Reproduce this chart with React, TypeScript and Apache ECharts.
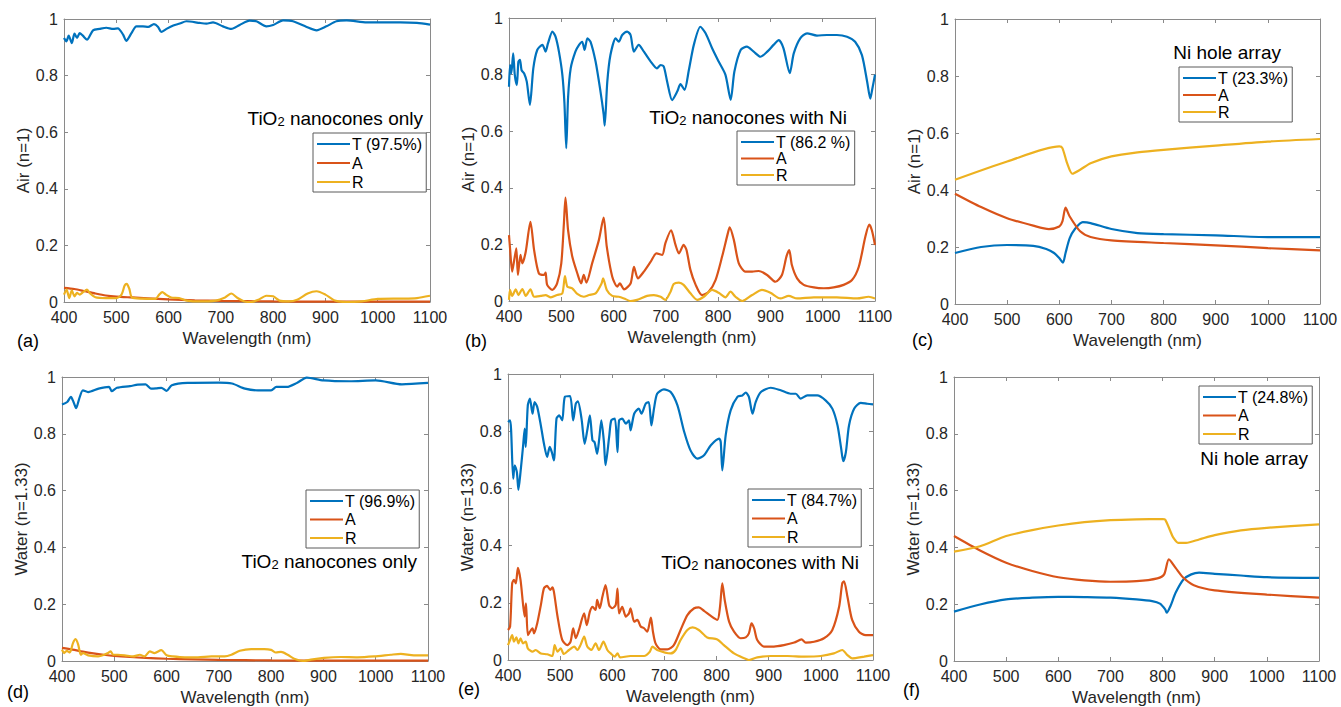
import React, { useEffect, useRef } from "react";
import * as echarts from "echarts";

const FONT = "'Liberation Sans', Arial, Helvetica, sans-serif";
const C_T = "#0072BD";
const C_A = "#D95319";
const C_R = "#EDB120";

const X_TICKS_MIN = 400;
const X_TICKS_MAX = 1100;

// ---------- (a) Air, TiO2 nanocones only ----------
const aT_wl = [400, 404.5, 409, 415, 420, 425, 430, 436, 444, 455.5, 468, 481, 494, 503, 513, 519, 529, 538.5, 551, 561, 572, 580, 586, 596, 609, 621.5, 634, 660, 672.5, 685, 704, 720, 736, 755, 768, 787, 800, 819, 838, 864, 883, 902, 921, 940.5, 979, 1043, 1075, 1100];
const aT_v = [0.933, 0.921, 0.941, 0.915, 0.948, 0.933, 0.95, 0.941, 0.927, 0.96, 0.965, 0.969, 0.965, 0.967, 0.945, 0.923, 0.95, 0.974, 0.974, 0.972, 0.982, 0.972, 0.954, 0.965, 0.977, 0.984, 0.992, 0.986, 0.984, 0.988, 0.974, 0.965, 0.979, 0.994, 0.992, 0.974, 0.979, 0.995, 0.992, 0.972, 0.96, 0.974, 0.992, 0.995, 0.988, 0.988, 0.986, 0.98];
const aA_wl = [400, 420, 440, 460, 480, 500, 530, 560, 600, 650, 700, 800, 900, 1000, 1100];
const aA_v = [0.05, 0.046, 0.038, 0.03, 0.023, 0.019, 0.016, 0.013, 0.009, 0.006, 0.004, 0.002, 0.001, 0.001, 0.001];
const aR_wl = [400, 405, 410, 415, 420, 425, 430, 436, 444, 450, 460, 480, 500, 510, 516, 520, 525, 530, 550, 575, 582, 588, 595, 605, 620, 635, 660, 690, 708, 720, 732, 745, 758, 772, 787, 800, 812, 830, 846, 866, 883, 900, 918, 940, 970, 1000, 1050, 1075, 1100];
const aR_v = [0.026, 0.044, 0.014, 0.041, 0.02, 0.032, 0.026, 0.034, 0.044, 0.03, 0.017, 0.014, 0.014, 0.026, 0.058, 0.064, 0.046, 0.016, 0.012, 0.011, 0.026, 0.035, 0.026, 0.016, 0.014, 0.005, 0.002, 0.005, 0.016, 0.03, 0.014, 0.002, 0, 0.008, 0.022, 0.02, 0.005, 0.002, 0.008, 0.03, 0.038, 0.026, 0.005, 0, 0.002, 0.011, 0.012, 0.014, 0.022];

// ---------- (b) Air, TiO2 nanocones with Ni ----------
const bT_wl = [400, 402, 404.5, 408, 411, 415, 418, 421, 424, 429, 434, 440, 446.5, 454, 464, 470, 474.5, 483, 489, 495.5, 502, 506, 509.5, 513, 518, 527, 534, 540, 544.5, 550, 556, 565.6, 575, 581, 583, 588, 594, 604, 610, 616.5, 626, 632.5, 639, 648, 658, 671, 683, 690, 696, 702.5, 712, 721.7, 728, 735.7, 744, 753.5, 766, 776, 788.5, 801, 814, 824, 831, 843, 855, 868, 881, 894, 906, 916, 925, 937, 944.6, 957, 970, 989, 1008, 1027, 1046.5, 1062, 1075, 1085, 1091, 1095, 1100];
const bT_v = [0.757, 0.834, 0.805, 0.875, 0.8, 0.763, 0.846, 0.852, 0.816, 0.804, 0.775, 0.693, 0.822, 0.887, 0.905, 0.881, 0.91, 0.952, 0.934, 0.881, 0.8, 0.7, 0.54, 0.72, 0.822, 0.881, 0.905, 0.916, 0.887, 0.928, 0.916, 0.846, 0.74, 0.66, 0.62, 0.775, 0.869, 0.928, 0.916, 0.94, 0.952, 0.94, 0.881, 0.905, 0.881, 0.846, 0.822, 0.834, 0.828, 0.775, 0.71, 0.74, 0.766, 0.746, 0.816, 0.905, 0.969, 0.946, 0.893, 0.846, 0.799, 0.711, 0.81, 0.887, 0.899, 0.881, 0.863, 0.881, 0.905, 0.922, 0.893, 0.805, 0.875, 0.928, 0.946, 0.938, 0.94, 0.94, 0.934, 0.916, 0.869, 0.775, 0.715, 0.751, 0.8];
const bA_wl = [400, 402, 406, 410, 414, 417, 422, 425.5, 432, 441, 448, 457, 467, 470, 473, 483, 492, 500, 505, 508, 513, 521, 530.6, 538, 543, 548, 559, 572, 581, 587, 597.5, 607, 612, 620, 632.5, 639, 646.5, 658, 671, 682, 693, 699, 710, 718.5, 725, 734, 739.5, 747, 757, 769, 782, 795, 807.6, 818.5, 822, 830, 839.5, 852, 865, 877.7, 893.6, 909.5, 922, 930.6, 936, 941, 951, 963.7, 983, 1002, 1021, 1040, 1056, 1069, 1081.5, 1089, 1094, 1100];
const bA_v = [0.233, 0.186, 0.104, 0.145, 0.186, 0.092, 0.163, 0.133, 0.174, 0.28, 0.18, 0.098, 0.092, 0.1, 0.057, 0.039, 0.062, 0.133, 0.274, 0.365, 0.25, 0.157, 0.098, 0.062, 0.092, 0.065, 0.133, 0.216, 0.295, 0.192, 0.086, 0.051, 0.062, 0.041, 0.062, 0.121, 0.08, 0.104, 0.139, 0.168, 0.163, 0.204, 0.25, 0.198, 0.168, 0.198, 0.18, 0.11, 0.057, 0.021, 0.033, 0.074, 0.157, 0.239, 0.26, 0.216, 0.133, 0.104, 0.104, 0.106, 0.092, 0.068, 0.092, 0.157, 0.18, 0.127, 0.08, 0.057, 0.048, 0.045, 0.048, 0.057, 0.074, 0.121, 0.227, 0.27, 0.25, 0.198];
const bR_wl = [400, 402, 406, 413, 418, 425.5, 432, 441, 448, 460.5, 470, 480, 492, 502, 507, 511.5, 521, 530.6, 543, 553, 565.6, 577, 580, 587, 597.5, 610, 620, 632.5, 645, 664, 677, 690, 699, 709, 715, 725, 734, 747, 760, 772.6, 788.5, 801, 814, 823.6, 833, 846, 865, 884, 900, 919, 935, 951, 983, 1027, 1066, 1088, 1100];
const bR_v = [0.004, 0.039, 0.018, 0.041, 0.021, 0.042, 0.018, 0.041, 0.015, 0.018, 0.021, 0.013, 0.021, 0.027, 0.088, 0.051, 0.045, 0.025, 0.015, 0.021, 0.027, 0.062, 0.08, 0.039, 0.018, 0.015, 0.009, 0, 0.004, 0.018, 0.021, 0.015, 0.004, 0.033, 0.06, 0.065, 0.057, 0.027, 0.004, 0.015, 0.039, 0.029, 0.013, 0.033, 0.015, 0, 0.021, 0.039, 0.029, 0.009, 0.018, 0.009, 0.013, 0.013, 0.009, 0.015, 0.009];

// ---------- (c) Air, Ni hole array ----------
const cT_wl = [400, 450, 500, 550, 575, 590, 600, 607, 612, 620, 630, 645, 660, 700, 750, 800, 900, 1000, 1100];
const cT_v = [0.179, 0.2, 0.207, 0.204, 0.193, 0.179, 0.161, 0.145, 0.179, 0.231, 0.263, 0.287, 0.284, 0.263, 0.249, 0.245, 0.241, 0.235, 0.235];
const cA_wl = [400, 450, 500, 550, 580, 600, 606, 612, 620, 640, 660, 700, 800, 900, 1000, 1100];
const cA_v = [0.387, 0.34, 0.301, 0.275, 0.263, 0.272, 0.29, 0.338, 0.307, 0.255, 0.235, 0.223, 0.214, 0.206, 0.196, 0.188];
const cR_wl = [400, 500, 600, 606, 615, 625, 640, 660, 700, 750, 800, 900, 1000, 1100];
const cR_v = [0.436, 0.5, 0.553, 0.547, 0.494, 0.457, 0.471, 0.494, 0.518, 0.532, 0.541, 0.556, 0.57, 0.579];

// ---------- (d) Water, TiO2 nanocones only ----------
const dT_wl = [400, 410, 417, 422, 427, 433, 440, 450, 470, 490, 495, 505, 530, 545, 560, 570, 580, 590, 600, 610, 640, 700, 725, 750, 775, 800, 810, 830, 850, 868, 900, 950, 1000, 1050, 1100];
const dT_v = [0.903, 0.912, 0.93, 0.912, 0.89, 0.924, 0.953, 0.947, 0.959, 0.965, 0.95, 0.962, 0.968, 0.973, 0.974, 0.959, 0.96, 0.962, 0.951, 0.971, 0.979, 0.98, 0.977, 0.959, 0.953, 0.953, 0.965, 0.965, 0.98, 0.998, 0.988, 0.985, 0.988, 0.974, 0.979];
const dA_wl = [400, 420, 440, 460, 480, 500, 530, 560, 600, 650, 700, 800, 900, 1000, 1100];
const dA_v = [0.046, 0.04, 0.033, 0.027, 0.022, 0.018, 0.014, 0.011, 0.008, 0.006, 0.004, 0.002, 0.001, 0.001, 0.001];
const dR_wl = [400, 404, 409, 415, 421, 426, 431, 436, 440.5, 450, 469, 488, 493, 498, 507, 520, 536, 549, 558, 568, 577, 590, 600, 612, 635, 660, 686, 711, 724, 740, 762, 787, 800, 809, 819, 831.5, 844, 863, 876, 901, 933, 965, 997, 1029, 1048, 1073, 1100];
const dR_v = [0.04, 0.028, 0.036, 0.03, 0.063, 0.077, 0.058, 0.022, 0.028, 0.02, 0.016, 0.028, 0.034, 0.022, 0.022, 0.02, 0.016, 0.022, 0.016, 0.034, 0.028, 0.038, 0.02, 0.016, 0.013, 0.013, 0.016, 0.016, 0.022, 0.036, 0.042, 0.042, 0.039, 0.03, 0.032, 0.022, 0.008, 0, 0.005, 0.011, 0.014, 0.013, 0.016, 0.022, 0.025, 0.02, 0.02];

// ---------- (e) Water, TiO2 nanocones with Ni ----------
const eT_wl = [400, 404, 406, 410, 413, 417, 420, 424, 429, 432, 434, 438, 442, 447, 451, 456, 463, 469, 475, 480, 484, 488, 493, 498, 504, 509, 519, 525, 530, 534, 541, 547, 552, 557, 562, 566, 571, 575, 579, 584, 587, 594, 598, 605, 610, 613, 619, 626, 632, 635, 642, 651, 656, 664, 670, 675, 680, 686, 699, 712, 725, 738, 750, 763, 776, 789, 805, 808, 811, 817.5, 827, 840, 849.5, 856, 862, 869, 875, 885, 904, 923, 942, 952, 961, 974, 993, 1009, 1022, 1032, 1039, 1043, 1048, 1054, 1064, 1076.5, 1089, 1100];
const eT_v = [0.832, 0.838, 0.803, 0.634, 0.681, 0.657, 0.595, 0.657, 0.75, 0.809, 0.745, 0.89, 0.914, 0.861, 0.902, 0.885, 0.82, 0.756, 0.71, 0.745, 0.727, 0.698, 0.844, 0.855, 0.838, 0.92, 0.923, 0.838, 0.896, 0.904, 0.844, 0.756, 0.803, 0.855, 0.768, 0.762, 0.721, 0.774, 0.838, 0.762, 0.681, 0.78, 0.838, 0.844, 0.727, 0.838, 0.844, 0.826, 0.838, 0.803, 0.861, 0.879, 0.861, 0.896, 0.902, 0.82, 0.879, 0.931, 0.946, 0.937, 0.89, 0.797, 0.733, 0.704, 0.716, 0.751, 0.774, 0.762, 0.663, 0.786, 0.873, 0.92, 0.925, 0.935, 0.92, 0.861, 0.902, 0.937, 0.952, 0.943, 0.931, 0.931, 0.914, 0.925, 0.925, 0.908, 0.879, 0.82, 0.739, 0.695, 0.727, 0.82, 0.879, 0.899, 0.896, 0.894];
const eA_wl = [400, 404, 408, 411.5, 415, 419, 424, 429, 432, 434.5, 438, 442, 447, 450, 456, 463, 469, 475, 481, 485, 488, 495, 504, 514, 520, 525, 530, 536, 546, 551, 557, 562, 568, 571, 576, 581, 587, 594, 600, 606.5, 610, 613, 619, 626, 632, 635, 642, 648, 654.5, 661, 667, 674, 678, 683, 693, 705.6, 718, 731, 744, 757, 766, 776, 789, 801.5, 806.6, 811, 815.6, 824, 833.5, 846, 856, 862, 867, 872, 878, 891, 910, 929, 949, 963, 971, 987, 1006, 1022, 1035, 1041, 1044.5, 1051, 1060, 1073, 1086, 1100];
const eA_v = [0.105, 0.117, 0.268, 0.28, 0.268, 0.322, 0.28, 0.192, 0.152, 0.198, 0.087, 0.099, 0.111, 0.093, 0.128, 0.192, 0.251, 0.259, 0.245, 0.254, 0.239, 0.152, 0.07, 0.052, 0.064, 0.111, 0.076, 0.105, 0.163, 0.122, 0.169, 0.186, 0.175, 0.21, 0.181, 0.221, 0.262, 0.192, 0.181, 0.192, 0.25, 0.163, 0.186, 0.152, 0.163, 0.181, 0.134, 0.14, 0.117, 0.111, 0.099, 0.148, 0.099, 0.058, 0.037, 0.037, 0.052, 0.105, 0.157, 0.181, 0.184, 0.172, 0.154, 0.14, 0.186, 0.268, 0.21, 0.134, 0.099, 0.076, 0.079, 0.093, 0.128, 0.111, 0.07, 0.047, 0.047, 0.052, 0.061, 0.072, 0.061, 0.064, 0.076, 0.105, 0.186, 0.268, 0.275, 0.221, 0.14, 0.099, 0.087, 0.087];
const eR_wl = [400, 404, 408, 411.5, 416, 420, 424, 429, 434, 438, 447, 453, 463, 475, 485, 489.5, 495, 501, 507, 517, 527, 533, 539, 546, 552, 560, 568, 574.5, 583, 590.5, 597, 604.6, 610, 615, 635, 661, 672, 677, 686, 712, 721.6, 731, 744, 754, 766, 782, 801.5, 814, 833.5, 853, 862, 878, 904, 936, 968, 1000, 1025, 1041, 1051, 1060, 1083, 1100];
const eR_v = [0.052, 0.07, 0.087, 0.064, 0.079, 0.058, 0.076, 0.058, 0.064, 0.041, 0.029, 0.035, 0.023, 0.02, 0.014, 0.052, 0.029, 0.041, 0.021, 0.035, 0.047, 0.035, 0.052, 0.082, 0.047, 0.035, 0.058, 0.035, 0.064, 0.035, 0.023, 0.012, 0.023, 0.009, 0.014, 0.014, 0.029, 0.047, 0.035, 0.023, 0.035, 0.07, 0.105, 0.114, 0.105, 0.079, 0.072, 0.052, 0.023, 0.006, 0, 0.009, 0.014, 0.014, 0.012, 0.014, 0.023, 0.035, 0.017, 0.006, 0.012, 0.017];

// ---------- (f) Water, Ni hole array ----------
const fT_wl = [400, 450, 500, 550, 600, 650, 700, 750, 780, 795, 805, 808, 815, 825, 840, 855, 870, 900, 950, 1000, 1100];
const fT_v = [0.174, 0.199, 0.217, 0.223, 0.226, 0.225, 0.223, 0.217, 0.211, 0.202, 0.182, 0.17, 0.193, 0.24, 0.287, 0.305, 0.311, 0.307, 0.301, 0.295, 0.293];
const fA_wl = [400, 450, 500, 550, 600, 650, 700, 750, 790, 803, 812, 825, 840, 860, 900, 1000, 1100];
const fA_v = [0.44, 0.389, 0.346, 0.317, 0.295, 0.284, 0.279, 0.281, 0.291, 0.305, 0.358, 0.328, 0.293, 0.267, 0.249, 0.234, 0.223];
const fR_wl = [400, 450, 500, 550, 600, 650, 700, 750, 800, 805, 815, 820, 830, 845, 870, 900, 950, 1000, 1100];
const fR_v = [0.385, 0.404, 0.44, 0.461, 0.477, 0.489, 0.496, 0.499, 0.5, 0.498, 0.457, 0.436, 0.416, 0.416, 0.428, 0.443, 0.46, 0.469, 0.481];

const legendA = ["T (97.5%)", "A", "R"];
const legendB = ["T (86.2 %)", "A", "R"];
const legendC = ["T (23.3%)", "A", "R"];
const legendD = ["T (96.9%)", "A", "R"];
const legendE = ["T (84.7%)", "A", "R"];
const legendF = ["T (24.8%)", "A", "R"];

const yNames = ["Air (n=1)", "Air (n=1)", "Air (n=1)", "Water (n=1.33)", "Water (n=133)", "Water (n=1.33)"];
const panelLabels = ["(a)", "(b)", "(c)", "(d)", "(e)", "(f)"];

const zip = (wl: number[], v: number[]) => wl.map((w, i) => [w, v[i]]);

const panels = [
  { grid: { left: 64, top: 19, width: 366, height: 283 }, names: legendA, T: [aT_wl, aT_v], A: [aA_wl, aA_v], R: [aR_wl, aR_v], legend: { left: 313, top: 133, gap: 3 }, note: { text: "sub", pre: "TiO", post: " nanocones only", x: 423, y: 117 }, label: { x: 17, y: 341 } },
  { grid: { left: 509, top: 18, width: 366, height: 283 }, names: legendB, T: [bT_wl, bT_v], A: [bA_wl, bA_v], R: [bR_wl, bR_v], legend: { left: 737, top: 131, gap: 0.5 }, note: { text: "sub", pre: "TiO", post: " nanocones with Ni", x: 847, y: 116 }, label: { x: 465, y: 341 } },
  { grid: { left: 955, top: 19, width: 365, height: 285 }, names: legendC, T: [cT_wl, cT_v], A: [cA_wl, cA_v], R: [cR_wl, cR_v], legend: { left: 1179, top: 67, gap: 1 }, note: { text: "Ni hole array", x: 1281, y: 52 }, label: { x: 912, y: 340 } },
  { grid: { left: 62, top: 377, width: 366, height: 284 }, names: legendD, T: [dT_wl, dT_v], A: [dA_wl, dA_v], R: [dR_wl, dR_v], legend: { left: 306, top: 490, gap: 2.5 }, note: { text: "sub", pre: "TiO", post: " nanocones only", x: 417, y: 560 }, label: { x: 7, y: 692 } },
  { grid: { left: 508, top: 374, width: 365, height: 286 }, names: legendE, T: [eT_wl, eT_v], A: [eA_wl, eA_v], R: [eR_wl, eR_v], legend: { left: 748, top: 489, gap: 2.5 }, note: { text: "sub", pre: "TiO", post: " nanocones with Ni", x: 859, y: 561 }, label: { x: 458, y: 689 } },
  { grid: { left: 954, top: 377, width: 365, height: 285 }, names: legendF, T: [fT_wl, fT_v], A: [fA_wl, fA_v], R: [fR_wl, fR_v], legend: { left: 1199, top: 386, gap: 2.5 }, note: { text: "Ni hole array", x: 1308, y: 458 }, label: { x: 903, y: 690 } },
];

const AXIS_COLOR = "#8a8a8a";
const LABEL_COLOR = "#262626";
const SERIES_COLORS = [C_T, C_A, C_R];

function buildOption() {
  const grid: any[] = [];
  const xAxis: any[] = [];
  const yAxis: any[] = [];
  const series: any[] = [];
  const legend: any[] = [];
  const graphic: any[] = [];

  panels.forEach((p, i) => {
    grid.push({ ...p.grid, containLabel: false });
    const common = {
      type: "value",
      gridIndex: i,
      axisLine: { show: true, onZero: false, lineStyle: { color: AXIS_COLOR, width: 1 } },
      axisTick: { show: true, inside: true, length: 4, lineStyle: { color: AXIS_COLOR } },
      splitLine: { show: false },
    };
    xAxis.push({
      ...common,
      position: "bottom",
      min: X_TICKS_MIN,
      max: X_TICKS_MAX,
      interval: 100,
      axisLabel: { color: LABEL_COLOR, fontSize: 16, margin: 7, fontFamily: FONT, formatter: (v: number) => String(v) },
      name: "Wavelength (nm)",
      nameLocation: "middle",
      nameGap: 28,
      nameTextStyle: { color: LABEL_COLOR, fontSize: 17, fontFamily: FONT },
    });
    xAxis.push({
      ...common,
      position: "top",
      min: X_TICKS_MIN,
      max: X_TICKS_MAX,
      interval: 100,
      axisLabel: { show: false },
    });
    yAxis.push({
      ...common,
      position: "left",
      min: 0,
      max: 1,
      interval: 0.2,
      axisLabel: { color: LABEL_COLOR, fontSize: 16, margin: 6, fontFamily: FONT },
      name: yNames[i],
      nameLocation: "middle",
      nameGap: 30,
      nameTextStyle: { color: LABEL_COLOR, fontSize: 17, fontFamily: FONT },
    });
    yAxis.push({
      ...common,
      position: "right",
      min: 0,
      max: 1,
      interval: 0.2,
      axisLabel: { show: false },
    });

    const mk = (name: string, d: number[][], color: string) => ({
      type: "line",
      name,
      xAxisIndex: 2 * i,
      yAxisIndex: 2 * i,
      data: zip(d[0], d[1]),
      symbol: "none",
      showSymbol: false,
      smooth: 0.25,
      lineStyle: { width: 2.2, color },
      itemStyle: { color },
      color,
      silent: true,
    });
    series.push(mk(p.names[0], p.T as any, C_T));
    series.push(mk(p.names[1], p.A as any, C_A));
    series.push(mk(p.names[2], p.R as any, C_R));

    legend.push({
      data: p.names.map((nm, k) => ({ name: nm, icon: "rect", itemStyle: { color: SERIES_COLORS[k] } })),
      orient: "vertical",
      left: p.legend.left,
      top: p.legend.top,
      itemWidth: 33,
      itemHeight: 2.2,
      itemGap: p.legend.gap,
      padding: [3, 4, 2, 4],
      backgroundColor: "#ffffff",
      borderColor: "#5a5a5a",
      borderWidth: 1,
      borderRadius: 0,
      selectedMode: false,
      textStyle: { fontSize: 16, color: "#000", fontFamily: FONT, lineHeight: 16, padding: [0, 0, 0, -3] },
    });

    const n: any = p.note;
    if (n.text === "sub") {
      graphic.push({
        type: "text",
        x: n.x,
        y: n.y,
        style: {
          text: `{m|${n.pre}}{s|2}{m|${n.post}}`,
          align: "right",
          verticalAlign: "middle",
          fill: "#000",
          fontFamily: FONT,
          rich: {
            m: { fontSize: 19, lineHeight: 22, verticalAlign: "bottom", fontFamily: FONT, fill: "#000" },
            s: { fontSize: 13, lineHeight: 10, verticalAlign: "bottom", fontFamily: FONT, fill: "#000" },
          },
        },
      });
    } else {
      graphic.push({
        type: "text",
        x: n.x,
        y: n.y,
        style: { text: n.text, align: "right", verticalAlign: "middle", fontSize: 19, fontFamily: FONT, fill: "#000" },
      });
    }
    graphic.push({
      type: "text",
      x: p.label.x,
      y: p.label.y,
      style: { text: panelLabels[i], align: "left", verticalAlign: "middle", fontSize: 18, fontFamily: FONT, fill: "#000" },
    });
  });

  return {
    animation: false,
    backgroundColor: "#ffffff",
    textStyle: { fontFamily: FONT },
    grid,
    xAxis,
    yAxis,
    legend,
    series,
    graphic,
  };
}

export default function App() {
  const ref = useRef<HTMLDivElement>(null);
  useEffect(() => {
    if (!ref.current) return;
    const chart = echarts.init(ref.current, undefined, { renderer: "svg" });
    chart.setOption(buildOption() as any);
    return () => chart.dispose();
  }, []);
  return (
    <div
      ref={ref}
      style={{ position: "fixed", left: 0, top: 0, width: 1341, height: 707, background: "#fff" }}
    />
  );
}
